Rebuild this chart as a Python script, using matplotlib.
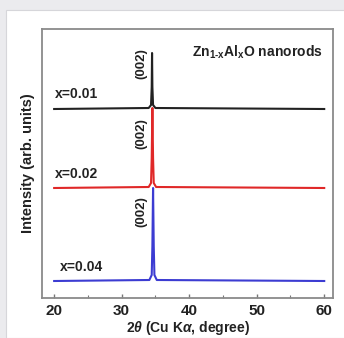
import matplotlib
matplotlib.use('Agg')
import matplotlib.pyplot as plt
from matplotlib.patches import Rectangle
from matplotlib.ticker import MultipleLocator
import numpy as np

plt.rcParams['font.family'] = ['Liberation Sans', 'DejaVu Sans']
plt.rcParams['font.weight'] = 'bold'
plt.rcParams['mathtext.fontset'] = 'custom'
plt.rcParams['mathtext.rm'] = 'Liberation Sans:bold'
plt.rcParams['mathtext.it'] = 'Liberation Sans:bold:italic'
plt.rcParams['mathtext.bf'] = 'Liberation Sans:bold'

# XRD profiles (2theta in degrees, intensity above baseline)
theta_black = [20, 34.0, 34.35, 34.45, 34.5, 34.55, 34.65, 35.0, 60]
int_black = [0, 1, 4, 22, 56, 22, 4, 1, 0]
theta_red = [20, 34.0, 34.35, 34.45, 34.55, 34.65, 34.75, 35.1, 60]
int_red = [0, 1, 5, 30, 80, 30, 5, 1, 0]
theta_blue = [20, 34.1, 34.45, 34.55, 34.65, 34.75, 34.85, 35.2, 60]
int_blue = [0, 1, 6, 35, 93, 35, 6, 1, 0]

offsets = [189, 110, 17]
labels = ['x=0.01', 'x=0.02', 'x=0.04']
colors = ['#222222', '#e02828', '#3c3cd2']
label_y = [204, 124, 31]
label_x = [20.1, 20.1, 20.9]
hkl_y = [234, 164, 86]

fig = plt.figure(figsize=(3.44, 3.38), dpi=100)
fig.patch.set_facecolor('#ebebee')
card = Rectangle((6 / 344, 0), 1, 1 - 10 / 338, transform=fig.transFigure,
                 facecolor='white', edgecolor='#d6d6da', linewidth=0.8, zorder=-10)
fig.patches.append(card)

ax = fig.add_axes([42 / 344, 1 - 298 / 338, 291 / 344, 269 / 338])
ax.set_facecolor('white')

series = [(theta_black, int_black), (theta_red, int_red), (theta_blue, int_blue)]
for (tx, iy), off, c, lab, lx, ly, hy in zip(series, offsets, colors, labels,
                                             label_x, label_y, hkl_y):
    ax.plot(tx, np.array(iy) + off, color=c, linewidth=1.5, solid_joinstyle='round')
    ax.text(lx, ly, lab, fontsize=10, fontweight='bold', color='#222222',
            ha='left', va='center')
    ax.text(32.9, hy, '(002)', fontsize=9.5, fontweight='bold', color='#222222',
            rotation=90, ha='center', va='center')

ax.text(59.7, 246, r'Zn$_{\mathrm{1‐x}}$Al$_{\mathrm{x}}$O nanorods', fontsize=10,
        fontweight='bold', color='#222222', ha='right', va='center')

ax.set_xlim(18.2, 61.3)
ax.set_ylim(0, 269)
ax.set_yticks([])
ax.xaxis.set_major_locator(MultipleLocator(10))
ax.xaxis.set_minor_locator(MultipleLocator(5))
ax.tick_params(axis='x', which='major', direction='in', length=3, width=1,
               color='#777777', labelsize=11, pad=4, labelcolor='#222222')
ax.tick_params(axis='x', which='minor', direction='in', length=2, width=0.8,
               color='#777777')
for lbl in ax.get_xticklabels():
    lbl.set_fontweight('bold')
for sp in ax.spines.values():
    sp.set_color('#8a8a8a')
    sp.set_linewidth(1.3)

ax.set_xlabel(r'2$\it{\theta}$ (Cu K$\it{\alpha}$, degree)', fontsize=10,
              fontweight='bold', color='#222222', labelpad=1)
ax.set_ylabel('Intensity (arb. units)', fontsize=10.5, fontweight='bold',
              color='#222222', labelpad=5)

fig.savefig('out.png', dpi=100, facecolor=fig.get_facecolor())
